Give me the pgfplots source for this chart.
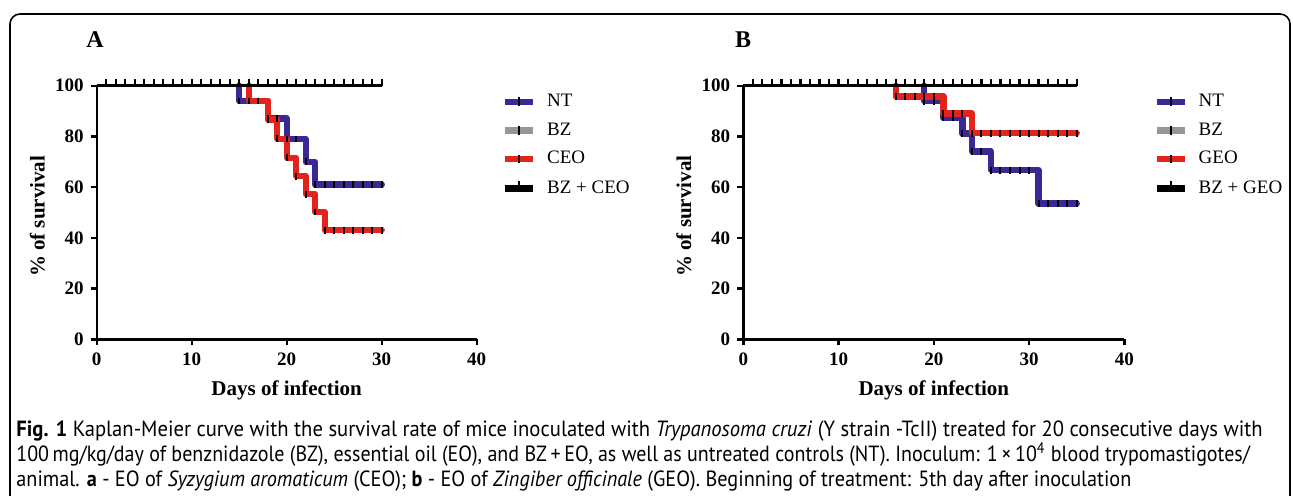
\documentclass[border=0pt]{standalone}
\usepackage{fontspec}
\setmainfont{Liberation Serif}
\newfontfamily\capfont[FakeStretch=0.92]{PT Sans}
\usepackage{pgfplots}
\pgfplotsset{compat=1.18}
\definecolor{ntblue}{RGB}{58,40,150}
\definecolor{ceored}{RGB}{226,36,28}
\definecolor{bzgray}{RGB}{150,150,150}
\pgfplotsset{
 km/.style={
  scale only axis, width=190pt, height=126.8pt,
  xmin=0, xmax=40, ymin=0, ymax=100,
  axis lines=left, axis line style={-, line width=1.2pt},
  xtick={0,10,20,30,40}, ytick={0,20,40,60,80,100},
  tick align=outside, major tick length=3pt,
  every tick/.style={black, line width=1.2pt},
  tick label style={font=\bfseries\fontsize{9.5}{10}\selectfont},
  /pgf/number format/assume math mode=true,
  clip=false,
  xlabel={Days of infection}, ylabel={\% of survival},
  label style={font=\bfseries\fontsize{10.5}{12}\selectfont},
  xlabel style={at={(axis description cs:0.5,-0.2224)}, anchor=base},
  ylabel style={at={(axis description cs:-0.137,0.485)}, anchor=base},
  anchor=south west,
  legend cell align=left,
  legend style={draw=none, fill=none, inner sep=0pt, outer sep=0pt,
    row sep=6.6pt, column sep=5.5pt, font=\fontsize{9.5}{11}\selectfont,
    nodes={inner sep=0pt},
    at={(1.0658,0.9673)}, anchor=north west},
  legend image code/.code={\draw[#1, line width=3.2pt] (0pt,0pt) -- (14pt,0pt);
     \draw[black, line width=1pt] (7pt,-2.2pt) -- (7pt,2.2pt);},
 },
 curve/.style={const plot, line width=3.2pt, line join=round, line cap=round, mark=none, forget plot},
 bline/.style={const plot, line width=1.5pt, mark=none, forget plot},
 cens/.style={only marks, mark=|, mark size=1.7pt, mark options={black, line width=1pt}, forget plot},
 censb/.style={only marks, mark=|, mark size=1.8pt, mark options={black, line width=1.1pt, yshift=1.8pt}, forget plot},
}
\begin{document}
\begin{tikzpicture}
\useasboundingbox (0,0) rectangle (646.5pt,247.5pt);
% frame
\draw[line width=0.8pt, rounded corners=5pt] (5pt,-6pt) -- (5pt,240.5pt) -- (645pt,240.5pt) -- (645pt,-6pt);
% panel labels
\node[font=\bfseries\fontsize{12}{14}\selectfont, anchor=base] at (47.5pt,224pt) {A};
\node[font=\bfseries\fontsize{12}{14}\selectfont, anchor=base] at (371.5pt,224pt) {B};

% ---------- Panel A ----------
\begin{axis}[km, at={(48.35pt,77.85pt)}]
\addlegendimage{color=ntblue}\addlegendentry{NT}
\addlegendimage{color=bzgray}\addlegendentry{BZ}
\addlegendimage{color=ceored}\addlegendentry{CEO}
\addlegendimage{legend image code/.code={\draw[black, line width=3.2pt] (0pt,0pt) -- (14pt,0pt);
     \draw[black, line width=1pt] (7pt,0pt) -- (7pt,3.8pt);}}\addlegendentry{BZ + CEO}
% BZ
\addplot[bline, bzgray] coordinates {(0,100) (30,100)};
% NT
\addplot[curve, ntblue] coordinates {(15,100) (15,94) (18,87) (20,79) (22,70) (23,61) (30,61)};
\addplot[cens] coordinates {(15,94) (16,94) (17,94) (18,87) (19,87) (20,79) (21,79) (22,70) (23,61) (24,61) (25,61) (26,61) (27,61) (28,61) (29,61) (30,61)};
% CEO
\addplot[curve, ceored] coordinates {(16,100) (16,94) (18,86.6) (19,79.1) (20,71.6) (21,64.3) (22,57.2) (23,50.2) (24,43) (30,43)};
\addplot[cens] coordinates {(16,94) (17,94) (18,86.6) (19,79.1) (20,71.6) (21,64.3) (22,57.2) (23,50.2) (24,43) (25,43) (26,43) (27,43) (28,43) (29,43) (30,43)};
% BZ + CEO
\addplot[bline, black] coordinates {(0,100) (30,100)};
\addplot[censb] coordinates {(1,100) (2,100) (3,100) (4,100) (5,100) (6,100) (7,100) (8,100) (9,100) (10,100) (11,100) (12,100) (13,100) (14,100) (15,100) (16,100) (17,100) (18,100) (19,100) (20,100) (21,100) (22,100) (23,100) (24,100) (25,100) (26,100) (27,100) (28,100) (29,100) (30,100)};
\end{axis}

% ---------- Panel B ----------
\begin{axis}[km, at={(371.65pt,77.85pt)}, width=190.5pt, legend style={at={(1.0761,0.9673)}}]
\addlegendimage{color=ntblue}\addlegendentry{NT}
\addlegendimage{color=bzgray}\addlegendentry{BZ}
\addlegendimage{color=ceored}\addlegendentry{GEO}
\addlegendimage{legend image code/.code={\draw[black, line width=3.2pt] (0pt,0pt) -- (14pt,0pt);
     \draw[black, line width=1pt] (7pt,0pt) -- (7pt,3.8pt);}}\addlegendentry{BZ + GEO}
% BZ
\addplot[bline, bzgray] coordinates {(0,100) (35,100)};
% NT
\addplot[curve, ntblue] coordinates {(19,100) (19,93.9) (21,87.3) (23,81.1) (24,74.1) (26,66.7) (31,53.5) (35,53.5)};
\addplot[cens] coordinates {(19,93.9) (20,93.9) (21,87.3) (22,87.3) (23,81.1) (24,74.1) (25,74.1) (26,66.7) (27,66.7) (28,66.7) (29,66.7) (30,66.7) (31,53.5) (32,53.5) (33,53.5) (34,53.5) (35,53.5)};
% GEO
\addplot[curve, ceored] coordinates {(16,100) (16,95.8) (21,89) (24,81.3) (35,81.3)};
\addplot[cens] coordinates {(16,95.8) (17,95.8) (18,95.8) (19,95.8) (20,95.8) (21,89) (22,89) (23,89) (24,81.3) (25,81.3) (26,81.3) (27,81.3) (28,81.3) (29,81.3) (30,81.3) (31,81.3) (32,81.3) (33,81.3) (34,81.3) (35,81.3)};
% BZ + GEO
\addplot[bline, black] coordinates {(0,100) (35,100)};
\addplot[censb] coordinates {(1,100) (2,100) (3,100) (4,100) (5,100) (6,100) (7,100) (8,100) (9,100) (10,100) (11,100) (12,100) (13,100) (14,100) (15,100) (16,100) (17,100) (18,100) (19,100) (20,100) (21,100) (22,100) (23,100) (24,100) (25,100) (26,100) (27,100) (28,100) (29,100) (30,100) (31,100) (32,100) (33,100) (34,100) (35,100)};
\end{axis}

% ---------- Caption ----------
\node[anchor=base west, inner sep=0pt, font=\capfont\fontsize{11}{13}\selectfont] at (8pt,29.5pt)
 {\scalebox{1.02}[1]{\textbf{Fig. 1} Kaplan-Meier curve with the survival rate of mice inoculated with \textit{Trypanosoma cruzi} (Y strain -TcII) treated for 20 consecutive days with}};
\node[anchor=base west, inner sep=0pt, font=\capfont\fontsize{11}{13}\selectfont] at (8pt,17pt)
 {\scalebox{0.988}[1]{100\,mg/kg/day of benznidazole (BZ), essential oil (EO), and BZ\,+\,EO, as well as untreated controls (NT). Inoculum: 1\,×\,10\textsuperscript{4} blood trypomastigotes/}};
\node[anchor=base west, inner sep=0pt, font=\capfont\fontsize{11}{13}\selectfont] at (8pt,4.5pt)
 {animal. \textbf{a} - EO of \textit{Syzygium aromaticum} (CEO); \textbf{b} - EO of \textit{Zingiber officinale} (GEO). Beginning of treatment: 5th day after inoculation};
\end{tikzpicture}
\end{document}
